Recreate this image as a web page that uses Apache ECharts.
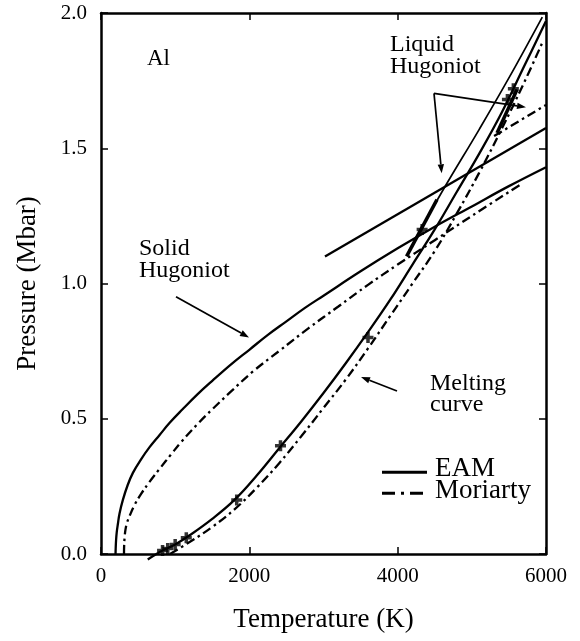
<!DOCTYPE html>
<html><head><meta charset="utf-8">
<script src="https://cdn.jsdelivr.net/npm/echarts@6/dist/echarts.min.js"></script>
<style>html,body{margin:0;padding:0;background:#fff}#c{width:580px;height:641px}</style>
</head><body><div id="c"></div>
<script>
// ---- data (T in K, P in Mbar) ----
const xTicks = [0, 2000, 4000, 6000];
const yTicks = [0.0, 0.5, 1.0, 1.5, 2.0];

const eamHugT = [196, 198, 203, 212, 227, 250, 295, 360, 430, 540, 655, 790, 926, 1100, 1300, 1500, 1750, 2000, 2250, 2500, 2750, 3000, 3500, 4000, 4500, 5000, 5500, 6000];
const eamHugP = [0.0, 0.02, 0.05, 0.08, 0.11, 0.15, 0.20, 0.255, 0.30, 0.35, 0.395, 0.44, 0.485, 0.535, 0.59, 0.64, 0.70, 0.755, 0.81, 0.86, 0.91, 0.955, 1.045, 1.13, 1.21, 1.285, 1.36, 1.43];

const morHugT = [310, 312, 318, 330, 350, 385, 450, 543, 650, 791, 950, 1084, 1300, 1500, 1750, 2050, 2400, 2800, 3200, 3600, 4000, 4500, 5000, 5680];
const morHugP = [0.0, 0.03, 0.06, 0.09, 0.115, 0.14, 0.18, 0.223, 0.265, 0.315, 0.37, 0.415, 0.48, 0.535, 0.60, 0.675, 0.75, 0.835, 0.915, 0.995, 1.07, 1.16, 1.25, 1.37];

const eamLiqT = [3020, 6000];
const eamLiqP = [1.10, 1.575];

const morLiqT = [5300, 6000];
const morLiqP = [1.545, 1.66];

const eamMeltT = [630, 830, 1000, 1200, 1500, 1800, 2100, 2400, 2700, 3000, 3300, 3600, 3900, 4200, 4500, 4800, 5100, 5400, 5700, 6000];
const eamMeltP = [-0.02, 0.013, 0.035, 0.07, 0.13, 0.20, 0.29, 0.39, 0.49, 0.595, 0.705, 0.82, 0.94, 1.07, 1.20, 1.34, 1.48, 1.63, 1.80, 1.97];

const eamMelt2T = [4150, 4600, 5100, 5500, 5950];
const eamMelt2P = [1.12, 1.34, 1.57, 1.76, 1.985];

const morMeltT = [930, 1200, 1500, 1800, 2100, 2400, 2700, 3000, 3300, 3600, 3900, 4200, 4500, 4800, 5100, 5400, 5700, 5950];
const morMeltP = [0.0, 0.045, 0.10, 0.165, 0.245, 0.335, 0.435, 0.54, 0.645, 0.76, 0.88, 1.0, 1.12, 1.26, 1.41, 1.57, 1.74, 1.89];

const markT = [830, 900, 1000, 1150, 1830, 2420, 3600, 4330, 5480, 5560];
const markP = [0.013, 0.02, 0.035, 0.06, 0.20, 0.40, 0.80, 1.20, 1.68, 1.72];

const seg1T = [4120, 4530];
const seg1P = [1.10, 1.31];
const seg2T = [5340, 5610];
const seg2P = [1.556, 1.717];

// ---- build ----
const zip = (a, b) => a.map((v, i) => [v, b[i]]);
const FONT = 'Liberation Serif';
const DASHDOT = [9, 4, 2.5, 4];
const chart = echarts.init(document.getElementById('c'), null, {renderer: 'canvas'});

function lineSeries(name, T, P, dash, extra) {
  return Object.assign({
    name: name, type: 'line', data: zip(T, P), showSymbol: false, symbol: 'none',
    smooth: 0.4, clip: false, silent: true, animation: false,
    lineStyle: {color: '#000', width: 2.3, type: dash ? DASHDOT : 'solid'}
  }, extra || {});
}

function arrow(x1, y1, x2, y2) {
  const ang = Math.atan2(y2 - y1, x2 - x1);
  const L = 9, W = 3.2;
  const bx = x2 - L * Math.cos(ang), by = y2 - L * Math.sin(ang);
  const px = -Math.sin(ang) * W, py = Math.cos(ang) * W;
  return [
    {type: 'line', shape: {x1: x1, y1: y1, x2: bx, y2: by}, style: {stroke: '#000', lineWidth: 1.7}},
    {type: 'polygon', shape: {points: [[x2, y2], [bx + px, by + py], [bx - px, by - py]]}, style: {fill: '#000'}}
  ];
}

const txt = (s, x, y, size) => ({type: 'text', x: x, y: y,
  style: {text: s, fill: '#000', font: size + 'px "' + FONT + '"', textVerticalAlign: 'middle', verticalAlign: 'middle'}});

const axisCommon = {
  min: 0, axisLine: {show: true, onZero: false, lineStyle: {color: '#000', width: 2.5}},
  axisTick: {show: true, inside: true, length: 7, lineStyle: {color: '#000', width: 1.5}},
  splitLine: {show: false}
};

const option = {
  animation: false,
  backgroundColor: '#fff',
  grid: {left: 101, right: 34, top: 13, bottom: 87, containLabel: false},
  xAxis: [
    Object.assign({}, axisCommon, {type: 'value', position: 'bottom', max: 6000, interval: 2000,
      name: 'Temperature (K)', nameLocation: 'middle', nameGap: 52,
      nameTextStyle: {fontFamily: FONT, fontSize: 27, color: '#000'},
      axisLabel: {fontFamily: FONT, fontSize: 21, color: '#000', margin: 12,
        formatter: v => xTicks.includes(v) ? String(v) : ''}}),
    Object.assign({}, axisCommon, {type: 'value', position: 'top', max: 6000, interval: 2000,
      axisLabel: {show: false}})
  ],
  yAxis: [
    Object.assign({}, axisCommon, {type: 'value', position: 'left', max: 2.0, interval: 0.5,
      name: 'Pressure (Mbar)', nameLocation: 'middle', nameGap: 60,
      nameTextStyle: {fontFamily: FONT, fontSize: 27, color: '#000'},
      axisLabel: {fontFamily: FONT, fontSize: 21, color: '#000', margin: 14,
        formatter: v => yTicks.includes(v) ? v.toFixed(1) : ''}}),
    Object.assign({}, axisCommon, {type: 'value', position: 'right', max: 2.0, interval: 0.5,
      axisLabel: {show: false}})
  ],
  series: [
    lineSeries('EAM Hugoniot', eamHugT, eamHugP, false),
    lineSeries('Moriarty Hugoniot', morHugT, morHugP, true),
    lineSeries('EAM liquid Hugoniot', eamLiqT, eamLiqP, false, {smooth: false}),
    lineSeries('Moriarty liquid Hugoniot', morLiqT, morLiqP, true, {smooth: false}),
    lineSeries('EAM melting', eamMeltT, eamMeltP, false),
    lineSeries('EAM melting 2', eamMelt2T, eamMelt2P, false, {lineStyle: {color: '#000', width: 1.7}}),
    lineSeries('Moriarty melting', morMeltT, morMeltP, true),
    lineSeries('seg1', seg1T, seg1P, false, {smooth: false, lineStyle: {color: '#000', width: 3.5}}),
    lineSeries('seg2', seg2T, seg2P, false, {smooth: false, lineStyle: {color: '#000', width: 3.5}}),
    {name: 'markers', type: 'scatter', data: zip(markT, markP), silent: true, clip: false,
      symbol: 'path://M-1.6,-5L1.6,-5L1.6,-1.6L5,-1.6L5,1.6L1.6,1.6L1.6,5L-1.6,5L-1.6,1.6L-5,1.6L-5,-1.6L-1.6,-1.6Z',
      symbolSize: 11, itemStyle: {color: '#000'}}
  ],
  graphic: [].concat(
    txt('Al', 147, 59, 23),
    txt('Solid', 139, 249, 24),
    txt('Hugoniot', 139, 270.5, 24),
    txt('Liquid', 390, 45, 24),
    txt('Hugoniot', 390, 67, 24),
    txt('Melting', 430, 383.5, 24),
    txt('curve', 430, 405, 24),
    arrow(176, 296.7, 249, 337.5),
    arrow(434, 93.3, 526, 107.3),
    arrow(434, 93.3, 441.7, 173.3),
    arrow(397, 391, 361, 377),
    [{type: 'line', shape: {x1: 382, y1: 472.3, x2: 427, y2: 472.3}, style: {stroke: '#000', lineWidth: 3}},
     {type: 'line', shape: {x1: 382, y1: 493.3, x2: 427, y2: 493.3}, style: {stroke: '#000', lineWidth: 3, lineDash: [13, 6, 3, 6]}}],
    txt('EAM', 435, 469, 27),
    txt('Moriarty', 435, 491, 27)
  )
};
chart.setOption(option);
</script>
</body></html>
